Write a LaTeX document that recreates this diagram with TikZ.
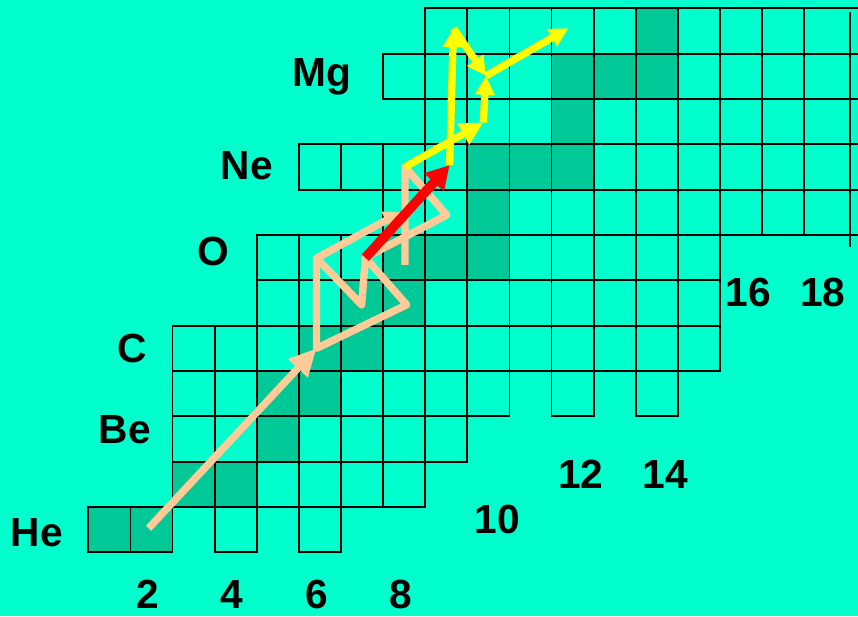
\documentclass[tikz,border=0pt]{standalone}
\usepackage{fontspec}
\setmainfont{Liberation Sans}
\usetikzlibrary{arrows.meta}
\definecolor{chart-bg}{RGB}{0,255,204}
\definecolor{stable-green}{RGB}{0,200,150}
\definecolor{hot-peach}{RGB}{255,204,153}
\definecolor{rp-yellow}{RGB}{255,255,0}
\definecolor{alpha-red}{RGB}{255,0,0}

\begin{document}
\begin{tikzpicture}[x=1cm, y=1.0765cm,
        cell/.style={draw=black, line width=1.2pt},
        lbl/.style={anchor=base, inner sep=0pt,
                    font=\fontsize{27.5}{30}\selectfont\bfseries},
        hot/.style={hot-peach, line width=5pt, line join=round},
        rp/.style={rp-yellow, line width=5pt, line join=round},
        alf/.style={alpha-red, line width=6.5pt}]
        % background and frame
        \fill[chart-bg, use as bounding box] (-1.597,0.095) rectangle (18.778,13.684);
        \clip (-1.597,0.095) rectangle (18.778,13.684);
        % stable nuclei
        \foreach \n/\z in {1/2,2/2,3/3,4/3,5/4,5/5,6/5,6/6,7/6,7/7,8/7,8/8,9/8,10/8,
                           10/9,10/10,11/10,12/10,12/11,12/12,13/12,14/12,14/13}
          \fill[stable-green] (\n-0.5,\z-0.5) rectangle ++(1,1);
        % rows of the chart
        \foreach \z/\first/\last in {2/1/2, 3/3/8, 4/3/9, 5/3/10, 6/3/15, 7/5/15, 8/5/15,
                                     9/8/17, 10/6/17, 11/9/17, 12/8/17, 13/9/17}
          \foreach \n in {\first,...,\last}
            \draw[cell] (\n-0.5,\z-0.5) rectangle ++(1,1);
        \foreach \n/\z in {4/2, 6/2, 12/5, 14/5}
          \draw[cell] (\n-0.5,\z-0.5) rectangle ++(1,1);
        \foreach \z in {8.5,9.5,...,13.5}
          \draw[cell] (17.5,\z) -- (18.8,\z);
        \draw[cell] (18.59,8.24) -- (18.59,13.43);

        % element and neutron labels
        \node[lbl] (he) at (-0.725,1.639) {He};
        \node[lbl] (be) at (1.371,3.905) {Be};
        \node[lbl] (c) at (1.531,5.687) {C};
        \node[lbl] (o) at (3.468,7.827) {O};
        \node[lbl] (ne) at (4.261,9.729) {Ne};
        \node[lbl] (mg) at (6.05,11.771) {Mg};
        \node[lbl] (n2) at (1.91,0.27) {2};
        \node[lbl] (n4) at (3.91,0.27) {4};
        \node[lbl] (n6) at (5.92,0.27) {6};
        \node[lbl] (n8) at (7.91,0.27) {8};
        \node[lbl] (n10) at (10.21,1.92) {10};
        \node[lbl] (n12) at (12.2,2.91) {12};
        \node[lbl] (n14) at (14.2,2.91) {14};
        \node[lbl] (n16) at (16.18,6.92) {16};
        \node[lbl] (n18) at (17.94,6.92) {18};

        % nuclides on the path
        \coordinate (he4) at (1.93,2.03);
        \coordinate (c12) at (5.92,6.0);
        \coordinate (o14) at (5.92,7.99);
        \coordinate (n14) at (6.99,6.96);
        \coordinate (o15) at (7.08,8.0);
        \coordinate (n15) at (8.06,6.96);
        \coordinate (o16) at (8.02,8.0);
        \coordinate (f17) at (7.92,9.0);
        \coordinate (ne18) at (8.02,10.0);
        \coordinate (f18) at (9.01,8.94);
        \coordinate (ne19) at (9.08,10.04);
        \coordinate (na21) at (9.88,10.98);
        \coordinate (mg22) at (9.94,12.01);
        \coordinate (al22) at (9.17,13.06);
        \coordinate (al25) at (11.9,13.06);

        \draw[hot, -{Triangle[length=6.5mm,width=6mm]}] (he4) -- (c12);
        \draw[hot] (c12) -- (o14) -- (n14) -- (o15) -- (n15) -- cycle;
        \draw[hot, -{Triangle[length=4mm,width=4.5mm]}] (o14) -- (f17);
        \draw[hot] ([yshift=-0.17cm]o16) -- (ne18) -- (f18) -- (o15);
        \draw[rp, -{Triangle[length=5.5mm,width=5.5mm]}] (ne18) -- (na21);
        \draw[rp, -{Triangle[length=4.5mm,width=4.5mm]}] (na21) -- (mg22);
        \draw[rp, -{Triangle[length=4.5mm,width=4.5mm]}] (ne19) -- (al22);
        \draw[rp, -{Triangle[length=4.5mm,width=4.5mm]}] (al22) -- (mg22);
        \draw[rp, -{Triangle[length=4.5mm,width=4.5mm]}] (mg22) -- (al25);
        \draw[alf, -{Triangle[length=5.5mm,width=6mm]}] (o15) -- (ne19);
      \end{tikzpicture}
\end{document}
